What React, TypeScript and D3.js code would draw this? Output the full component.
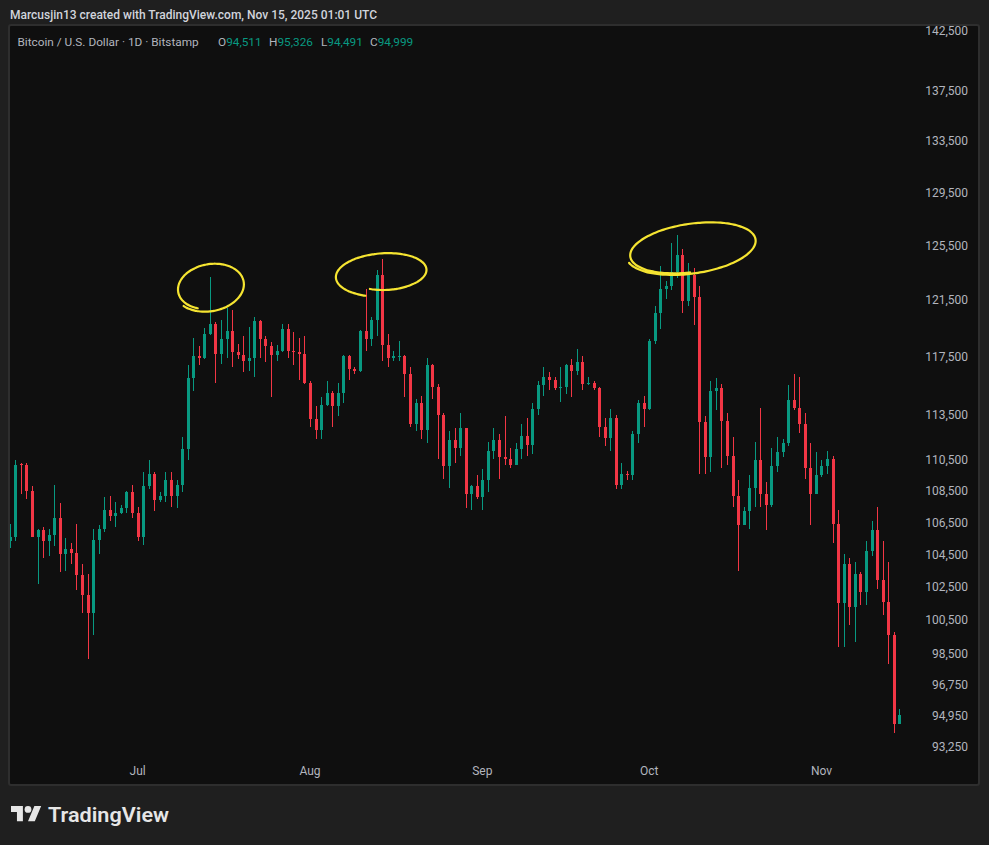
import React from "react";
import * as d3 from "d3";

// ---------- DATA (Bitstamp BTC/USD, daily) ----------
const startDate = "2025-06-08";

const opens = [
  105300, 105600, 110250, 110150, 108500, 105600, 106000, 105300, 105700, 106800, 104500, 104800, 104600, 103200, 102000, 100900, 105400, 106100, 107300, 106900, 107100, 107400, 108400,
  107100, 105600, 108800, 109600, 107900, 108200, 109200, 108200, 108900, 111200, 116000, 117500, 117400, 119100, 119800, 117700, 118700, 119300, 117800, 117600, 117200, 117400, 120000, 118700, 118200, 117600, 117900, 119400, 117900, 117800, 117700,
  115700, 113200, 112500, 114200, 115000, 114100, 115000, 117500, 116600, 116500, 119300, 118700, 120100, 123300, 118300, 117400, 117500, 117550, 116300, 112900, 114300, 112500, 116900, 115400, 113500, 110100, 111800, 111300, 112600, 108300, 108800,
  108100, 109200, 111100, 111800, 110700, 110600, 110200, 111200, 112100, 111500, 113900, 115500, 116100, 115900, 115300, 115400, 116900, 116500, 117100, 115600, 115700, 115300, 112700, 111950, 113300, 108900, 109600, 109550, 112200, 114300,
  113900, 118600, 120600, 122300, 122500, 123500, 124800, 121400, 123300, 121700, 113000, 110700, 115100, 115300, 113100, 110800, 108200, 106300, 107200, 108700, 110500, 108300, 107600, 110100, 111000, 111600, 114500, 114000, 112900, 110000, 108300,
  109500, 110100, 110600, 106400, 101500, 103900, 101300, 103300, 102200, 104700, 106000, 102900, 101600, 99600, 94511,
];
const highs = [
  106400, 110500, 110300, 110300, 108800, 106100, 106200, 106100, 108900, 107700, 105500, 105200, 106400, 103900, 103300, 106100, 106300, 108100, 108200, 107800, 107600, 108500, 108900,
  107500, 109700, 110500, 109700, 108400, 109700, 109700, 109200, 112000, 116900, 118800, 118200, 119500, 123200, 119900, 120100, 120900, 120800, 118400, 118900, 119600, 120300, 120100, 118900, 118500, 118300, 119800, 119800, 119200, 118800, 118900,
  115800, 114100, 114700, 115800, 115100, 115700, 117600, 117600, 116800, 119350, 122300, 120300, 123700, 124500, 119100, 117900, 118600, 117600, 116800, 114600, 114800, 117400, 117000, 115600, 113600, 112400, 112600, 113600, 112650, 108900, 109500,
  109900, 111700, 112600, 112200, 113400, 111300, 111600, 112900, 113300, 114300, 115800, 116800, 116400, 116100, 116800, 117000, 117300, 118000, 117500, 116100, 115800, 115400, 113300, 113900, 113500, 110300, 109800, 112400, 114500, 114800,
  118700, 121100, 124000, 122900, 125700, 126300, 125200, 124200, 123800, 122500, 113400, 115800, 116000, 115600, 113600, 112000, 109200, 107500, 109500, 111700, 114000, 109100, 111300, 112000, 111900, 115500, 116300, 116100, 113600, 111600, 111000,
  110500, 111100, 110800, 107300, 104500, 104300, 104000, 103400, 105300, 106600, 107500, 105300, 104000, 99800, 95326,
];
const lows = [
  104900, 105300, 108300, 108000, 105550, 102700, 104300, 104400, 105000, 103400, 103500, 103900, 102300, 100900, 98200, 99600, 104500, 105900, 106600, 106200, 107000, 107100, 106800,
  105300, 105100, 108600, 107200, 107800, 107800, 107500, 107400, 108400, 110500, 115100, 116900, 117300, 119000, 115700, 117000, 117400, 116800, 117300, 116400, 116500, 116100, 117400, 117100, 114700, 117200, 117800, 117400, 116900, 115900, 115600,
  112700, 111900, 111900, 114100, 112700, 113400, 114300, 115900, 116300, 116450, 117900, 118200, 118900, 117200, 116800, 117200, 117200, 114700, 112700, 112400, 111900, 111600, 114600, 110600, 109300, 108700, 110300, 110800, 107400, 107300, 108000,
  107300, 108400, 110600, 109300, 110200, 110000, 110200, 110600, 110800, 110900, 113500, 114800, 115200, 115200, 114400, 114900, 114700, 116200, 115200, 115500, 115200, 112000, 111400, 111100, 108600, 108600, 109200, 109200, 111600, 112700,
  113800, 118400, 119400, 121600, 122200, 123100, 120600, 121100, 119700, 109600, 109600, 109700, 113800, 110000, 110200, 107500, 103500, 106300, 106100, 107500, 107500, 106000, 107500, 109700, 110700, 111400, 113800, 112300, 109300, 106300, 108300,
  109400, 109600, 105200, 98900, 98900, 100200, 99200, 101400, 101400, 104400, 102400, 100800, 97900, 94000, 94491,
];
const closes = [
  105600, 110200, 110150, 108500, 105600, 106000, 105300, 105700, 106800, 104500, 104800, 104600, 103200, 102000, 100900, 105400, 106100, 107300, 106900, 107100, 107400, 108400, 107100,
  105600, 108800, 109600, 107900, 108200, 109200, 108200, 108900, 111200, 116000, 117500, 117400, 119100, 119800, 117700, 118700, 119300, 117800, 117600, 117200, 117400, 120000, 118700, 118200, 117600, 117900, 119400, 117900, 117800, 117700, 115700,
  113200, 112500, 114200, 115000, 114100, 115000, 117500, 116600, 116500, 119300, 118700, 120100, 123300, 118300, 117400, 117500, 117550, 116300, 112900, 114300, 112500, 116900, 115400, 113500, 110100, 111800, 111300, 112600, 108300, 108800, 108100,
  109200, 111100, 111800, 110700, 110600, 110200, 111200, 112100, 111500, 113900, 115500, 116100, 115900, 115300, 115400, 116900, 116500, 117100, 115600, 115700, 115300, 112700, 111950, 113300, 108900, 109600, 109550, 112200, 114300, 113900,
  118600, 120600, 122300, 122500, 123500, 124800, 121400, 123300, 121700, 113000, 110700, 115100, 115300, 113100, 110800, 108200, 106300, 107200, 108700, 110500, 108300, 107600, 110100, 111000, 111600, 114500, 114000, 112900, 110000, 108300, 109500,
  110100, 110600, 106400, 101500, 103900, 101300, 103300, 102200, 104700, 106000, 102900, 101600, 99600, 94520, 94999,
];

const priceTicks = [142500, 137500, 133500, 129500, 125500, 121500, 117500, 113500, 110500, 108500, 106500, 104500, 102500, 100500, 98500, 96750, 94950, 93250];
const monthTicks = ["2025-07-01", "2025-08-01", "2025-09-01", "2025-10-01", "2025-11-01"];
const monthLabels = ["Jul", "Aug", "Sep", "Oct", "Nov"];

const headerText = "Marcusjin13 created with TradingView.com, Nov 15, 2025 01:01 UTC";
const legendSymbol = "Bitcoin / U.S. Dollar · 1D · Bitstamp";
const legendKeys = ["O", "H", "L", "C"];
const legendValues = ["94,511", "95,326", "94,491", "94,999"];

// hand-drawn loops: [leftBarIndex, rightBarIndex, topPrice, bottomPrice, tiltDeg, startDeg, sweepDeg, r0, r1]
const loops = [
  [29.72, 42.31, 124200, 120700, -10, 120, 385, 0.9, 1.02],
  [58.32, 76.66, 125100, 121800, -4, 116, -362, 0.72, 1.02],
  [110.84, 134.58, 127200, 123400, -8, 95, 432, 0.93, 1.0],
];

// ---------- LAYOUT ----------
const W = 989;
const H = 845;
const BG = "#1f1f1f";
const PANEL = "#0f0f0f";
const UP = "#089981";
const DOWN = "#f23645";
const TEXT = "#b2b5be";

export default function App() {
  const start = new Date(startDate + "T00:00:00Z");
  const n = closes.length;
  const x = d3.scaleLinear().domain([0, n - 1]).range([9.74, 899.3]);
  const y = d3.scaleLog().domain([93250, 142500]).range([746.5, 31]);

  const bars = d3.range(n).map((i) => ({ i, o: opens[i], h: highs[i], l: lows[i], c: closes[i] }));

  const line = d3.line<[number, number]>().curve(d3.curveBasis);
  const loopPaths = loops.map((a) => {
    const [li, ri, tp, bp, tilt, sd, sw, r0, r1] = a;
    const x0 = x(li), x1 = x(ri), yt = y(tp), yb = y(bp);
    const cx = (x0 + x1) / 2, cy = (yt + yb) / 2, rx = (x1 - x0) / 2, ry = (yb - yt) / 2;
    const th = (tilt * Math.PI) / 180;
    const pts = d3.range(121).map((k) => {
      const f = k / 120;
      const t = ((sd + sw * f) * Math.PI) / 180;
      const r = r0 + (r1 - r0) * f;
      const ex = rx * r * Math.cos(t), ey = ry * r * Math.sin(t);
      return [cx + ex * Math.cos(th) - ey * Math.sin(th), cy + ex * Math.sin(th) + ey * Math.cos(th)] as [number, number];
    });
    return line(pts) as string;
  });

  const legendX = [218, 269, 321, 370];

  return (
    <div style={{ position: "absolute", left: 0, top: 0, width: W, height: H, overflow: "hidden" }}>
      <svg width={W} height={H} style={{ display: "block" }} fontFamily="Roboto, 'Noto Sans', sans-serif">
        <defs>
          <clipPath id="plotClip">
            <rect x={10} y={26} width={968} height={758} />
          </clipPath>
        </defs>
        <rect x={0} y={0} width={W} height={H} fill={BG} />
        <text x={10} y={15} dy="0.35em" fill="#d1d4dc" fontSize={12} fontWeight={500}>
          {headerText}
        </text>
        <rect x={9} y={25} width={970} height={760} fill={PANEL} stroke="#2e2e2e" strokeWidth={2} rx={2} />

        <g clipPath="url(#plotClip)" shapeRendering="crispEdges">
          {bars.map((b) => {
            const cx = Math.round(x(b.i));
            const col = b.c >= b.o ? UP : DOWN;
            const top = y(Math.max(b.o, b.c));
            const bot = y(Math.min(b.o, b.c));
            return (
              <g key={b.i} fill={col}>
                <rect x={cx} y={y(b.h)} width={1} height={Math.max(1, y(b.l) - y(b.h))} />
                <rect x={cx - 1} y={top} width={3} height={Math.max(1, bot - top)} />
              </g>
            );
          })}
        </g>

        <g clipPath="url(#plotClip)" fill="none" stroke="#f5e431" strokeWidth={2.2} strokeLinecap="round" strokeLinejoin="round">
          {loopPaths.map((p, k) => (
            <path key={k} d={p} />
          ))}
        </g>

        <text x={17.5} y={42} dy="0.35em" fontSize={11.8} fill={TEXT}>
          {legendSymbol}
        </text>
        {legendKeys.map((k, i) => (
          <text key={k} x={legendX[i]} y={42} dy="0.35em" fontSize={11.8}>
            <tspan fill={TEXT}>{k}</tspan>
            <tspan fill={UP}>{legendValues[i]}</tspan>
          </text>
        ))}

        {priceTicks.map((p) => (
          <text key={p} x={968} y={y(p)} dy="0.35em" textAnchor="end" fontSize={12} fill={TEXT}>
            {d3.format(",")(p)}
          </text>
        ))}
        {monthTicks.map((m, i) => {
          const idx = d3.utcDay.count(start, new Date(m + "T00:00:00Z"));
          return (
            <text key={m} x={x(idx)} y={771} dy="0.35em" textAnchor="middle" fontSize={12} fill={TEXT}>
              {monthLabels[i]}
            </text>
          );
        })}

        <g transform="translate(11,802.6) scale(0.85)" fill="#e6e6e6">
          <path d="M14 22H7V11H0V4h14v18zM28 22h-8l7.5-18h8L28 22z" />
          <circle cx={20} cy={8} r={4} />
        </g>
        <text x={48} y={822} fontSize={21} fontWeight={600} fill="#e6e6e6" textLength={121} lengthAdjust="spacingAndGlyphs">
          TradingView
        </text>
      </svg>
    </div>
  );
}
